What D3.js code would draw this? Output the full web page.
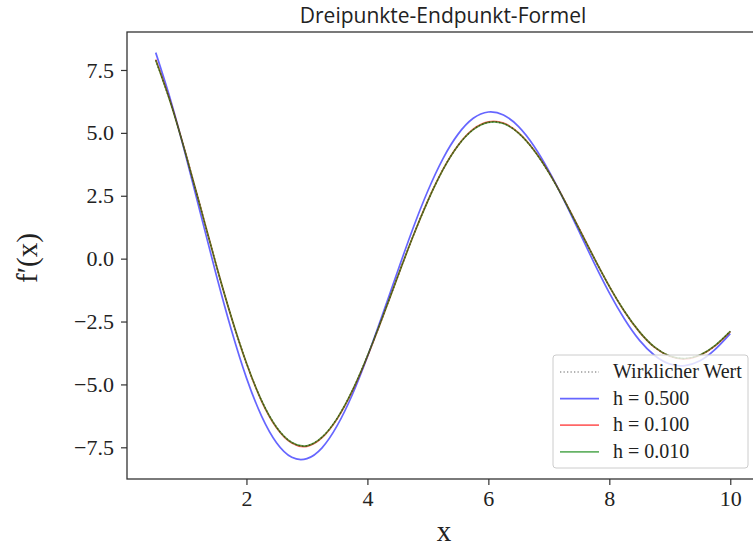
<!DOCTYPE html>
<html>
<head>
<meta charset="utf-8">
<script src="https://cdn.jsdelivr.net/npm/d3@7"></script>
<style>
  body { margin: 0; background: #fff; }
  svg { display: block; }
</style>
</head>
<body>
<script>
// Data
const xs = [0.5, 0.75, 1, 1.25, 1.5, 1.75, 2, 2.25, 2.5, 2.75, 3, 3.25, 3.5, 3.75, 4, 4.25, 4.5, 4.75, 5,
  5.25, 5.5, 5.75, 6, 6.25, 6.5, 6.75, 7, 7.25, 7.5, 7.75, 8, 8.25, 8.5, 8.75, 9, 9.25, 9.5, 9.75, 10];

const trueVals = [7.89, 6.16, 4.13, 1.95, -0.25, -2.32, -4.15, -5.64, -6.71, -7.31, -7.44, -7.10, -6.35,
  -5.25, -3.87, -2.33, -0.72, 0.86, 2.30, 3.54, 4.50, 5.13, 5.42, 5.37, 4.99, 4.32, 3.42, 2.35, 1.19, 0.02,
  -1.10, -2.09, -2.91, -3.52, -3.87, -3.97, -3.83, -3.45, -2.89];

const h500 = [8.19, 6.27, 4.06, 1.70, -0.64, -2.83, -4.74, -6.26, -7.33, -7.90, -7.95, -7.52, -6.64,
  -5.41, -3.90, -2.22, -0.50, 1.18, 2.70, 3.98, 4.95, 5.58, 5.83, 5.71, 5.25, 4.49, 3.49, 2.33, 1.08, -0.18,
  -1.36, -2.40, -3.25, -3.85, -4.19, -4.25, -4.06, -3.61, -2.98];

const h100 = [7.92, 6.18, 4.14, 1.96, -0.25, -2.33, -4.16, -5.66, -6.73, -7.33, -7.46, -7.12, -6.37,
  -5.27, -3.89, -2.34, -0.72, 0.86, 2.31, 3.55, 4.51, 5.15, 5.44, 5.39, 5.00, 4.33, 3.43, 2.36, 1.20, 0.02,
  -1.10, -2.10, -2.92, -3.53, -3.88, -3.99, -3.84, -3.47, -2.90];

const h010 = [7.89, 6.16, 4.13, 1.95, -0.25, -2.32, -4.15, -5.64, -6.71, -7.31, -7.44, -7.10, -6.35,
  -5.25, -3.87, -2.33, -0.72, 0.86, 2.30, 3.54, 4.50, 5.13, 5.42, 5.37, 4.99, 4.32, 3.42, 2.35, 1.19, 0.02,
  -1.10, -2.09, -2.91, -3.52, -3.87, -3.97, -3.83, -3.45, -2.89];

const xTicks = [2, 4, 6, 8, 10];
const yTicks = [-7.5, -5.0, -2.5, 0.0, 2.5, 5.0, 7.5];

const seriesNames = ['Wirklicher Wert', 'h = 0.500', 'h = 0.100', 'h = 0.010'];

// Chart dimensions
const width = 753;
const height = 547;
const plot = { left: 127, right: 759, top: 32, bottom: 479 };

const serif = "'Liberation Serif', 'DejaVu Serif', serif";

const svg = d3.select('body')
  .append('svg')
  .attr('width', width)
  .attr('height', height);

// Scales
const xScale = d3.scaleLinear()
  .domain([0.025, 10.475])
  .range([plot.left, plot.right]);

const yScale = d3.scaleLinear()
  .domain([-8.76, 9.01])
  .range([plot.bottom, plot.top]);

// Lines
const series = [
  { name: seriesNames[0], values: trueVals, color: '#000', opacity: 0.85, width: 1.3, dash: '1.3,2.2' },
  { name: seriesNames[1], values: h500, color: 'blue', opacity: 0.6, width: 1.7, dash: null },
  { name: seriesNames[2], values: h100, color: 'red', opacity: 0.6, width: 1.7, dash: null },
  { name: seriesNames[3], values: h010, color: 'green', opacity: 0.6, width: 1.7, dash: null }
];

const line = d3.line()
  .x((d, i) => xScale(xs[i]))
  .y(d => yScale(d))
  .curve(d3.curveNatural);

svg.append('g')
  .attr('class', 'lines')
  .selectAll('path')
  .data(series)
  .enter()
  .append('path')
  .attr('d', d => line(d.values))
  .attr('fill', 'none')
  .attr('stroke', d => d.color)
  .attr('stroke-opacity', d => d.opacity)
  .attr('stroke-width', d => d.width)
  .attr('stroke-dasharray', d => d.dash);

// Axes
const xAxis = d3.axisBottom(xScale)
  .tickValues(xTicks)
  .tickFormat(d3.format('d'))
  .tickSize(6)
  .tickPadding(5);

const yAxis = d3.axisLeft(yScale)
  .tickValues(yTicks)
  .tickFormat(d3.format('.1f'))
  .tickSize(6)
  .tickPadding(7);

const gx = svg.append('g')
  .attr('class', 'x-axis')
  .attr('transform', `translate(0, ${plot.bottom})`)
  .call(xAxis);

const gy = svg.append('g')
  .attr('class', 'y-axis')
  .attr('transform', `translate(${plot.left}, 0)`)
  .call(yAxis);

[gx, gy].forEach(g => {
  g.select('.domain').remove();
  g.selectAll('.tick line').attr('stroke', '#333').attr('stroke-width', 1.2);
  g.selectAll('.tick text')
    .attr('fill', '#222')
    .style('font-family', serif)
    .style('font-size', '22px');
});

// Spines
svg.append('rect')
  .attr('x', plot.left)
  .attr('y', plot.top)
  .attr('width', plot.right - plot.left)
  .attr('height', plot.bottom - plot.top)
  .attr('fill', 'none')
  .attr('stroke', '#333')
  .attr('stroke-width', 1.3);

// Title and axis labels
svg.append('text')
  .attr('x', (plot.left + plot.right) / 2)
  .attr('y', 23)
  .attr('text-anchor', 'middle')
  .style('font-family', "'Open Sans', sans-serif")
  .style('font-size', '21px')
  .attr('fill', '#222')
  .text('Dreipunkte-Endpunkt-Formel');

svg.append('text')
  .attr('x', 444)
  .attr('y', 541)
  .attr('text-anchor', 'middle')
  .style('font-family', serif)
  .style('font-size', '29px')
  .attr('fill', '#222')
  .text('x');

svg.append('text')
  .attr('transform', 'translate(37, 258) rotate(-90)')
  .attr('text-anchor', 'middle')
  .style('font-family', serif)
  .style('font-size', '29px')
  .attr('fill', '#222')
  .text('f\u2032(x)');

// Legend
const legend = svg.append('g')
  .attr('class', 'legend')
  .attr('transform', 'translate(553, 355)');

legend.append('rect')
  .attr('width', 195)
  .attr('height', 113)
  .attr('rx', 3)
  .attr('fill', '#fff')
  .attr('fill-opacity', 0.8)
  .attr('stroke', '#ccc')
  .attr('stroke-width', 1);

legend.selectAll('.legend-item')
  .data(series)
  .enter()
  .append('g')
  .attr('class', 'legend-item')
  .attr('transform', (d, i) => `translate(0, ${17 + i * 26.6})`)
  .each(function (d) {
    d3.select(this)
      .append('line')
      .attr('x1', 7)
      .attr('x2', 46)
      .attr('stroke', d.color)
      .attr('stroke-opacity', d.dash ? 0.6 : d.opacity)
      .attr('stroke-width', d.dash ? 1.1 : d.width)
      .attr('stroke-dasharray', d.dash);

    d3.select(this)
      .append('text')
      .attr('x', 60)
      .attr('y', 6)
      .attr('fill', '#222')
      .style('font-family', serif)
      .style('font-size', '20px')
      .text(d.name);
  });
</script>
</body>
</html>
